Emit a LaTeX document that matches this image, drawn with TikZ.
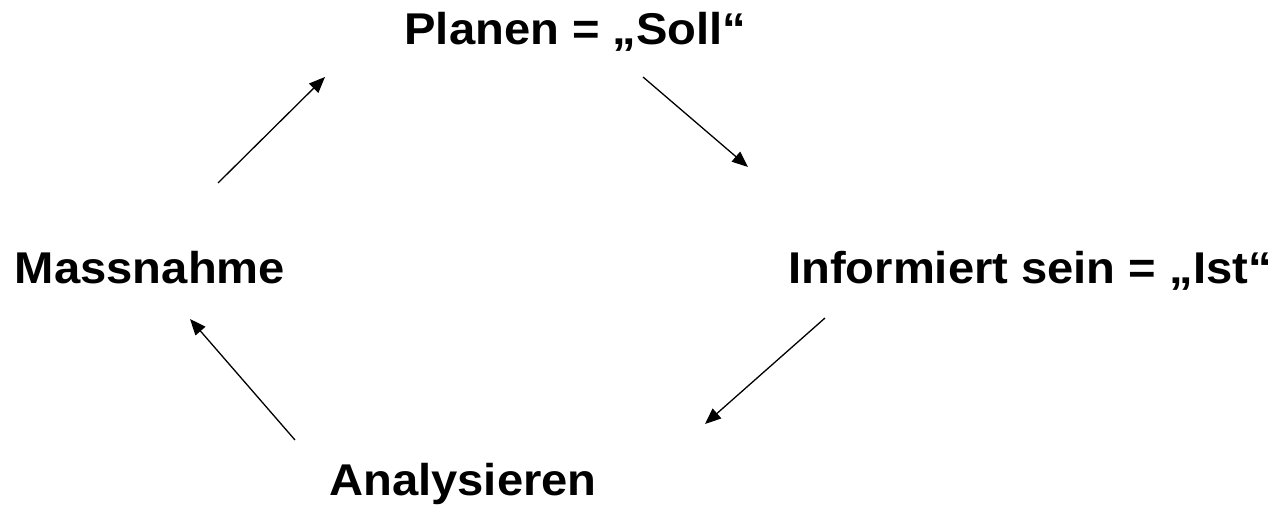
\documentclass[tikz,border=0pt]{standalone}
\usepackage{fontspec}
\setmainfont{Liberation Sans}
\usetikzlibrary{arrows.meta}
\newcommand\widetext[1]{\scalebox{1.06}[1]{#1}}
\begin{document}
\begin{tikzpicture}[x=1pt,y=1pt,
  label/.style={inner sep=0pt, anchor=base, font=\fontsize{44.5}{52}\selectfont\bfseries},
  flow/.style={line width=1.3pt, -{Triangle[length=16pt,width=13pt]}}]
  \useasboundingbox (0,0) rectangle (1279,517);
  % stages of the cycle
  \node[label] (plan) at (575.5,472) {\widetext{Planen = „Soll“}};
  \node[label] (ist)  at (1030,233) {\widetext{Informiert sein = „Ist“}};
  \node[label] (ana)  at (463,22)   {\widetext{Analysieren}};
  \node[label] (mass) at (150,233)  {\widetext{Massnahme}};
  % arrow end points
  \coordinate (p1) at (643,440); \coordinate (p2) at (748,350);
  \coordinate (i1) at (825,199); \coordinate (i2) at (705,93);
  \coordinate (a1) at (295,77);  \coordinate (a2) at (190,198);
  \coordinate (m1) at (218,334); \coordinate (m2) at (325,440);
  \draw[flow] (p1) -- (p2);
  \draw[flow] (i1) -- (i2);
  \draw[flow] (a1) -- (a2);
  \draw[flow] (m1) -- (m2);
\end{tikzpicture}
\end{document}
